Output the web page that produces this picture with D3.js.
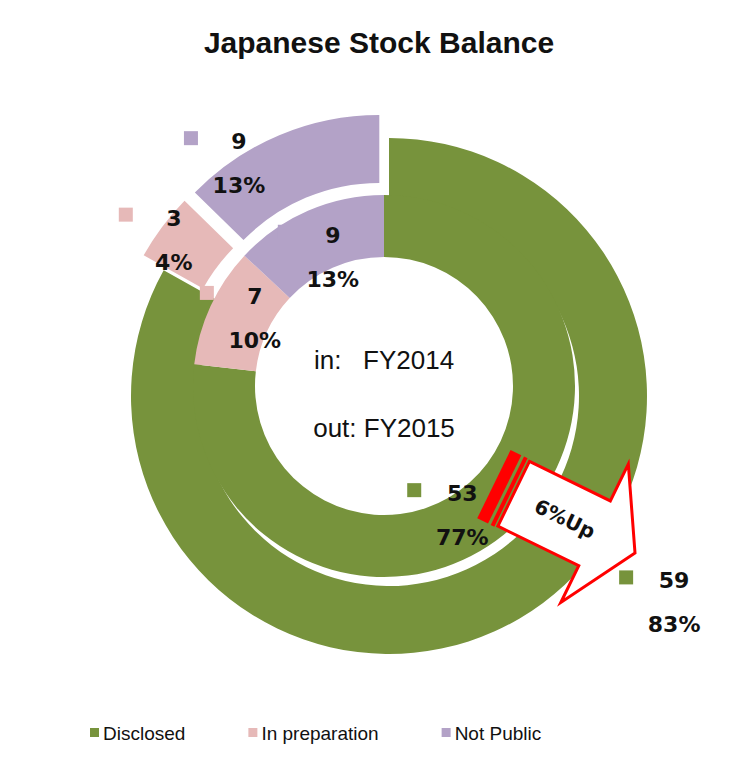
<!DOCTYPE html>
<html lang="en">
<head>
<meta charset="UTF-8">
<title>Japanese Stock Balance</title>
<script src="https://cdn.jsdelivr.net/npm/d3@7"></script>
<style>
  body { margin: 0; background: #fff; }
  svg { display: block; }
  text { font-family: "Liberation Sans", Arial, sans-serif; }
  .lbl { font-family: "DejaVu Sans", Verdana, sans-serif; font-weight: bold; font-size: 22px; fill: #111; }
</style>
</head>
<body>
<svg id="chart" width="733" height="768"></svg>
<script>
// data
var title = "Japanese Stock Balance";
var categories = ["Disclosed", "In preparation", "Not Public"];
var fy2014 = [53, 7, 9];   // inner ring
var fy2015 = [59, 3, 9];   // outer ring
var colors = ["#77933C", "#E6B9B8", "#B3A2C7"];
var centerLines = ["in:   FY2014", "out: FY2015"];
var arrowText = "6%Up";

// layout
var innerC = [384, 386], outerC = [389, 396];
var explode = [0, 25, 25];
// label positions: [angle in degrees, radius] from the ring centre
var innerLabelAt = [[148.8, 151], [297.8, 146], [338.4, 139]];
var outerLabelAt = [[125.9, 352], [306, 266], [327.2, 277]];

var svg = d3.select("#chart");
var pie = d3.pie().sort(null).value(function(d) { return d; });
var fmtPct = d3.format(".0%");
var rad = Math.PI / 180;

function polar(c, a, r) { return [c[0] + r * Math.sin(a), c[1] - r * Math.cos(a)]; }

// outer ring (FY2015), two slices pulled out
var outerArc = d3.arc().innerRadius(190).outerRadius(258);
svg.append("g").selectAll("path").data(pie(fy2015)).enter().append("path")
  .attr("d", outerArc)
  .attr("fill", function(d, i) { return colors[i]; })
  .attr("transform", function(d, i) {
    var p = polar(outerC, (d.startAngle + d.endAngle) / 2, explode[i]);
    return "translate(" + p[0] + "," + p[1] + ")";
  });

// inner ring (FY2014)
var innerArc = d3.arc().innerRadius(129).outerRadius(191);
svg.append("g").attr("transform", "translate(" + innerC[0] + "," + innerC[1] + ")")
  .selectAll("path").data(pie(fy2014)).enter().append("path")
  .attr("d", innerArc)
  .attr("fill", function(d, i) { return colors[i]; });

// centre text
svg.selectAll("text.center").data(centerLines).enter().append("text")
  .attr("class", "center")
  .attr("x", 384).attr("y", function(d, i) { return 369 + i * 68; })
  .attr("text-anchor", "middle")
  .attr("font-size", 26)
  .style("white-space", "pre")
  .attr("fill", "#111")
  .text(function(d) { return d; });

// striped arrow
var arrow = svg.append("g").attr("transform", "translate(635,553) rotate(26)");
arrow.append("rect").attr("x", -157).attr("y", -38).attr("width", 12).attr("height", 76).attr("fill", "#FF0000");
arrow.append("rect").attr("x", -142).attr("y", -38).attr("width", 4).attr("height", 76).attr("fill", "#FF0000");
arrow.append("path")
  .attr("d", d3.line()([[-135, -36], [-45, -36], [-45, -77], [0, 0], [-45, 77], [-45, 36], [-135, 36]]) + "Z")
  .attr("fill", "#fff").attr("stroke", "#FF0000").attr("stroke-width", 3).attr("stroke-linejoin", "miter");
arrow.append("text").attr("x", -78).attr("y", 0).attr("dy", "0.35em")
  .attr("text-anchor", "middle")
  .style("font-family", "'DejaVu Sans', Verdana, sans-serif")
  .attr("font-weight", "bold").attr("font-size", 20).attr("fill", "#111")
  .text(arrowText);

// data labels
function drawLabels(values, center, at) {
  var total = d3.sum(values);
  var g = svg.append("g");
  values.forEach(function(v, i) {
    var p = polar(center, at[i][0] * rad, at[i][1]);
    g.append("rect").attr("x", p[0] - 55).attr("y", p[1] - 32).attr("width", 14).attr("height", 14)
      .attr("fill", colors[i]);
    g.append("text").attr("class", "lbl").attr("x", p[0]).attr("y", p[1] - 14)
      .attr("text-anchor", "middle").text(v);
    g.append("text").attr("class", "lbl").attr("x", p[0]).attr("y", p[1] + 30)
      .attr("text-anchor", "middle").text(fmtPct(v / total));
  });
}
drawLabels(fy2014, innerC, innerLabelAt);
drawLabels(fy2015, outerC, outerLabelAt);

// title
svg.append("text").attr("x", 379).attr("y", 53).attr("text-anchor", "middle")
  .attr("font-size", 30).attr("font-weight", "bold").attr("fill", "#111").text(title);

// legend
var legend = svg.append("g").attr("transform", "translate(90,740)");
var lx = 0;
categories.forEach(function(c, i) {
  var item = legend.append("g").attr("transform", "translate(" + lx + ",0)");
  item.append("rect").attr("x", 0).attr("y", -12).attr("width", 9).attr("height", 9).attr("fill", colors[i]);
  var t = item.append("text").attr("x", 13).attr("y", 0).attr("font-size", 19).attr("fill", "#111").text(c);
  lx += 13 + t.node().getComputedTextLength() + 63;
});
</script>
</body>
</html>
